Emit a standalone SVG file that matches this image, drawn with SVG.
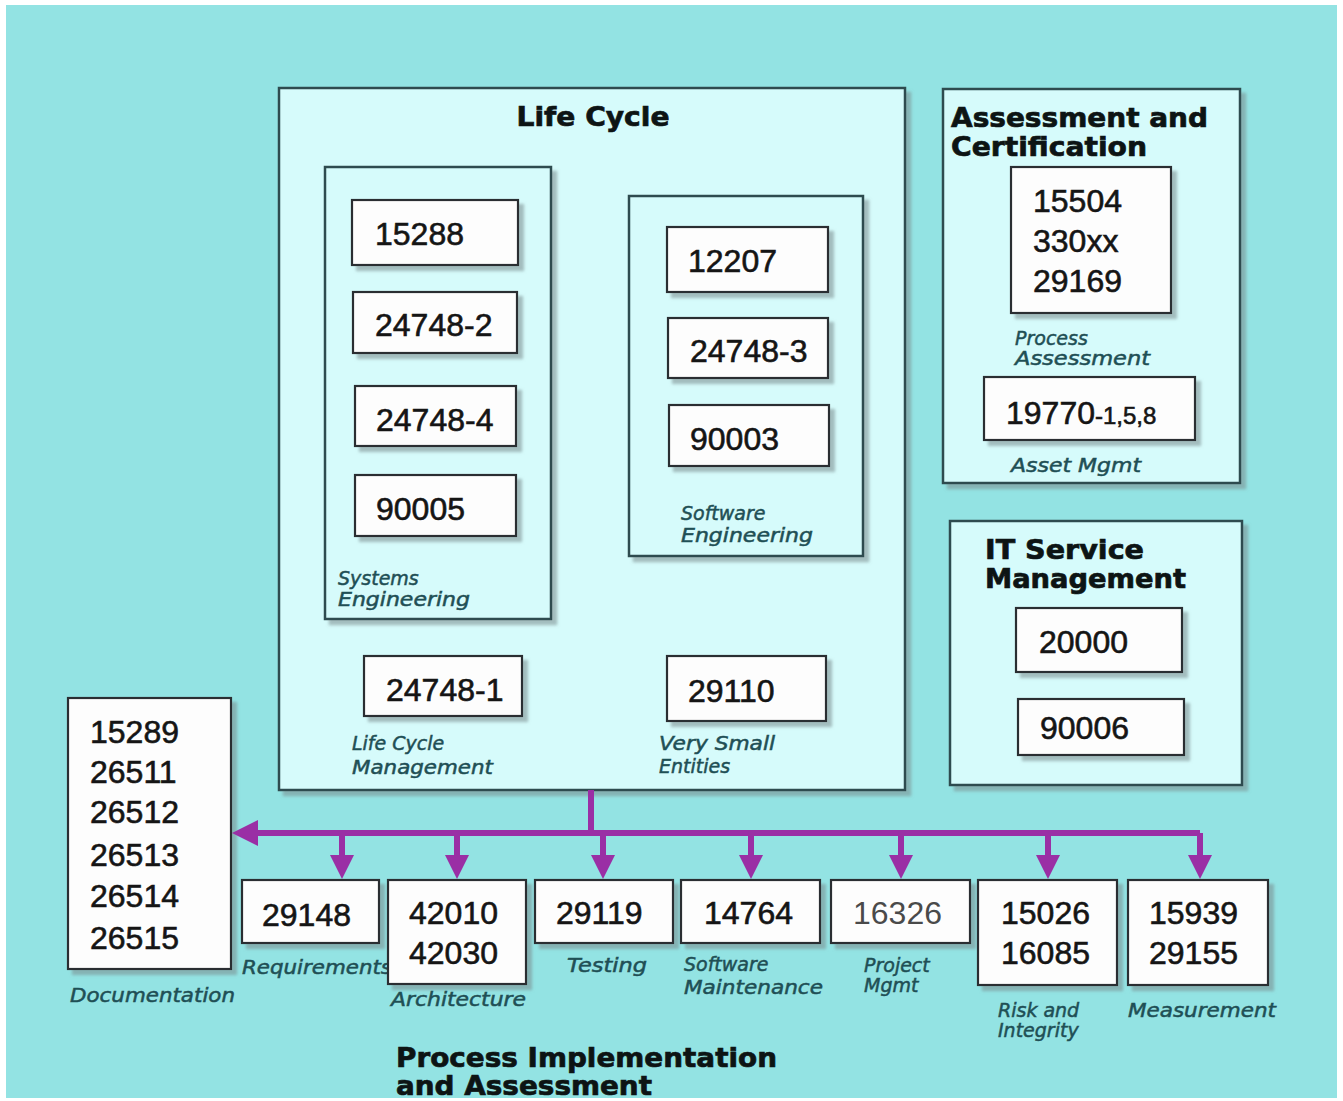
<svg xmlns="http://www.w3.org/2000/svg" width="1343" height="1101" viewBox="0 0 1343 1101">
<style>
.bg{fill:#93e3e3}
.cont{fill:#d6fbfb;stroke:#2f4b4f;stroke-width:2.5}
.box{fill:#fdfdfd;stroke:#2b2f30;stroke-width:2.2}
.num{font-family:"Liberation Sans",Arial,sans-serif;font-size:32px;fill:#151515;stroke:#151515;stroke-width:0.6}
.grey{fill:#4a4a4a;stroke:none}
.lbl{font-family:"DejaVu Sans",sans-serif;font-style:oblique;font-size:19px;fill:#1f4f55;stroke:#1f4f55;stroke-width:0.5}
.ttl{font-family:"DejaVu Sans",sans-serif;font-weight:bold;font-size:27px;fill:#0d1414;stroke:#0d1414;stroke-width:0.7}
.con{stroke:#9a2fa5;stroke-width:6;fill:none}
.head{fill:#9a2fa5}
</style>
<defs>
<filter id="sh" x="-10%" y="-10%" width="130%" height="130%">
<feDropShadow dx="5" dy="5" stdDeviation="1.5" flood-color="#7a8a8c" flood-opacity="0.55"/>
</filter>
</defs>
<rect width="1343" height="1101" fill="#ffffff"/>
<rect class="bg" x="6" y="5" width="1331" height="1093"/>

<g id="life-cycle">
<rect class="cont" x="279" y="88" width="626" height="702" filter="url(#sh)"/>
<text class="ttl" x="593" y="126" text-anchor="middle" textLength="153" lengthAdjust="spacingAndGlyphs">Life Cycle</text>
</g>

<g id="systems-engineering">
<rect class="cont" x="325" y="167" width="226" height="452" filter="url(#sh)"/>
<text class="lbl" x="338" y="585">Systems</text>
<text class="lbl" x="338" y="606" textLength="132" lengthAdjust="spacingAndGlyphs">Engineering</text>
</g>
<g id="n15288"><rect class="box" x="352" y="200" width="166" height="65" filter="url(#sh)"/><text class="num" x="375" y="245">15288</text></g>
<g id="n24748-2"><rect class="box" x="353" y="292" width="164" height="61" filter="url(#sh)"/><text class="num" x="375" y="336">24748-2</text></g>
<g id="n24748-4"><rect class="box" x="355" y="386" width="161" height="60" filter="url(#sh)"/><text class="num" x="376" y="431">24748-4</text></g>
<g id="n90005"><rect class="box" x="355" y="475" width="161" height="61" filter="url(#sh)"/><text class="num" x="376" y="520">90005</text></g>

<g id="software-engineering">
<rect class="cont" x="629" y="196" width="234" height="360" filter="url(#sh)"/>
<text class="lbl" x="681" y="520">Software</text>
<text class="lbl" x="681" y="542" textLength="132" lengthAdjust="spacingAndGlyphs">Engineering</text>
</g>
<g id="n12207"><rect class="box" x="667" y="227" width="161" height="65" filter="url(#sh)"/><text class="num" x="688" y="272">12207</text></g>
<g id="n24748-3"><rect class="box" x="668" y="318" width="160" height="60" filter="url(#sh)"/><text class="num" x="690" y="362">24748-3</text></g>
<g id="n90003"><rect class="box" x="669" y="405" width="160" height="61" filter="url(#sh)"/><text class="num" x="690" y="450">90003</text></g>

<g id="n24748-1"><rect class="box" x="364" y="656" width="158" height="60" filter="url(#sh)"/><text class="num" x="386" y="701">24748-1</text>
<text class="lbl" x="352" y="750">Life Cycle</text><text class="lbl" x="352" y="774" textLength="141" lengthAdjust="spacingAndGlyphs">Management</text></g>
<g id="n29110"><rect class="box" x="667" y="656" width="159" height="65" filter="url(#sh)"/><text class="num" x="688" y="702">29110</text>
<text class="lbl" x="659" y="750" textLength="116" lengthAdjust="spacingAndGlyphs">Very Small</text><text class="lbl" x="659" y="773">Entities</text></g>

<g id="assessment-certification">
<rect class="cont" x="943" y="89" width="297" height="394" filter="url(#sh)"/>
<text class="ttl" x="951" y="127" textLength="257" lengthAdjust="spacingAndGlyphs">Assessment and</text>
<text class="ttl" x="951" y="156" textLength="196" lengthAdjust="spacingAndGlyphs">Certification</text>
</g>
<g id="n15504"><rect class="box" x="1011" y="167" width="160" height="146" filter="url(#sh)"/>
<text class="num" x="1033" y="212">15504</text><text class="num" x="1033" y="252">330xx</text><text class="num" x="1033" y="292">29169</text>
<text class="lbl" x="1015" y="345">Process</text><text class="lbl" x="1015" y="365" textLength="135" lengthAdjust="spacingAndGlyphs">Assessment</text></g>
<g id="n19770"><rect class="box" x="984" y="377" width="211" height="63" filter="url(#sh)"/>
<text class="num" x="1006" y="424">19770<tspan font-size="24px">-1,5,8</tspan></text>
<text class="lbl" x="1011" y="472" textLength="130" lengthAdjust="spacingAndGlyphs">Asset Mgmt</text></g>

<g id="it-service-management">
<rect class="cont" x="950" y="521" width="292" height="264" filter="url(#sh)"/>
<text class="ttl" x="985" y="559" textLength="159" lengthAdjust="spacingAndGlyphs">IT Service</text>
<text class="ttl" x="985" y="588" textLength="201" lengthAdjust="spacingAndGlyphs">Management</text>
</g>
<g id="n20000"><rect class="box" x="1016" y="608" width="166" height="64" filter="url(#sh)"/><text class="num" x="1039" y="653">20000</text></g>
<g id="n90006"><rect class="box" x="1018" y="699" width="166" height="56" filter="url(#sh)"/><text class="num" x="1040" y="739">90006</text></g>

<g id="documentation">
<rect class="box" x="68" y="698" width="163" height="271" filter="url(#sh)"/>
<text class="num" x="90" y="743">15289</text><text class="num" x="90" y="783">26511</text><text class="num" x="90" y="823">26512</text>
<text class="num" x="90" y="866">26513</text><text class="num" x="90" y="907">26514</text><text class="num" x="90" y="949">26515</text>
<text class="lbl" x="70" y="1002" textLength="165" lengthAdjust="spacingAndGlyphs">Documentation</text>
</g>

<g id="requirements"><rect class="box" x="242" y="880" width="137" height="63" filter="url(#sh)"/><text class="num" x="262" y="926">29148</text>
<text class="lbl" x="242" y="974" textLength="150" lengthAdjust="spacingAndGlyphs">Requirements</text></g>
<g id="architecture"><rect class="box" x="388" y="880" width="138" height="104" filter="url(#sh)"/><text class="num" x="409" y="924">42010</text><text class="num" x="409" y="964">42030</text>
<text class="lbl" x="391" y="1006" textLength="135" lengthAdjust="spacingAndGlyphs">Architecture</text></g>
<g id="testing"><rect class="box" x="535" y="880" width="138" height="63" filter="url(#sh)"/><text class="num" x="556" y="924">29119</text>
<text class="lbl" x="567" y="972" textLength="80" lengthAdjust="spacingAndGlyphs">Testing</text></g>
<g id="software-maintenance"><rect class="box" x="681" y="880" width="139" height="63" filter="url(#sh)"/><text class="num" x="704" y="924">14764</text>
<text class="lbl" x="684" y="971">Software</text><text class="lbl" x="684" y="994" textLength="139" lengthAdjust="spacingAndGlyphs">Maintenance</text></g>
<g id="project-mgmt"><rect class="box" x="831" y="880" width="139" height="63" filter="url(#sh)"/><text class="num grey" x="853" y="924">16326</text>
<text class="lbl" x="864" y="972">Project</text><text class="lbl" x="864" y="992">Mgmt</text></g>
<g id="risk-integrity"><rect class="box" x="978" y="880" width="139" height="105" filter="url(#sh)"/><text class="num" x="1001" y="924">15026</text><text class="num" x="1001" y="964">16085</text>
<text class="lbl" x="998" y="1017">Risk and</text><text class="lbl" x="998" y="1037">Integrity</text></g>
<g id="measurement"><rect class="box" x="1128" y="880" width="140" height="105" filter="url(#sh)"/><text class="num" x="1149" y="924">15939</text><text class="num" x="1149" y="964">29155</text>
<text class="lbl" x="1128" y="1017" textLength="148" lengthAdjust="spacingAndGlyphs">Measurement</text></g>

<g id="process-implementation">
<text class="ttl" x="396" y="1067" font-size="23px" stroke-width="1" textLength="381" lengthAdjust="spacingAndGlyphs">Process Implementation</text>
<text class="ttl" x="396" y="1095" font-size="23px" stroke-width="1" textLength="256" lengthAdjust="spacingAndGlyphs">and Assessment</text>
</g>

<g id="connectors">
<path class="con" d="M591 790 V833 M255 833 H1200"/>
<path class="con" d="M342 833 V858 M457 833 V858 M603 833 V858 M751 833 V858 M901 833 V858 M1048 833 V858 M1200 833 V858"/>
<polygon class="head" points="232,833 258,820 258,846"/>
<polygon class="head" points="330,855 354,855 342,879"/>
<polygon class="head" points="445,855 469,855 457,879"/>
<polygon class="head" points="591,855 615,855 603,879"/>
<polygon class="head" points="739,855 763,855 751,879"/>
<polygon class="head" points="889,855 913,855 901,879"/>
<polygon class="head" points="1036,855 1060,855 1048,879"/>
<polygon class="head" points="1188,855 1212,855 1200,879"/>
</g>
</svg>
